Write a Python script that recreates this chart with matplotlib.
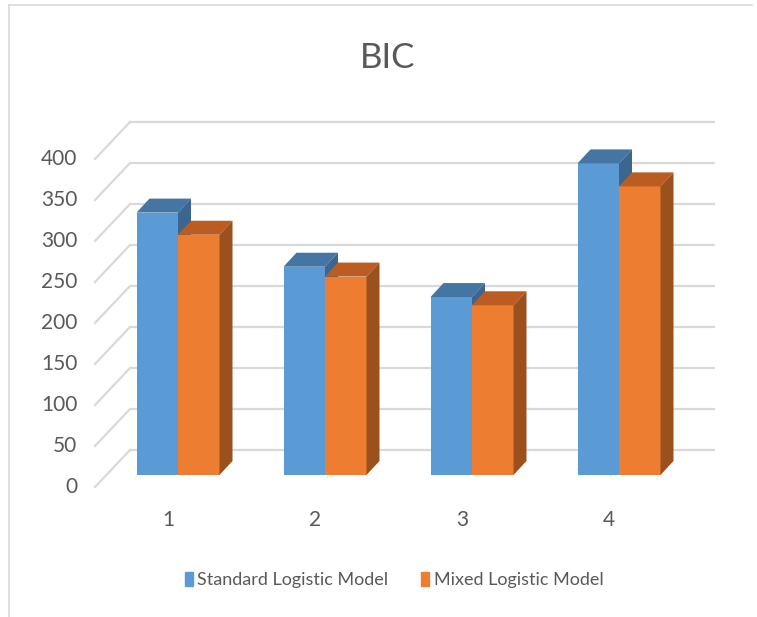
import matplotlib.pyplot as plt
from matplotlib.patches import Polygon, Patch
from matplotlib.lines import Line2D

# BIC values per model
categories = ['1', '2', '3', '4']
standard_bic = [320, 254, 217, 380]
mixed_bic = [293, 242, 207, 352]
series_names = ['Standard Logistic Model', 'Mixed Logistic Model']
y_ticks = [0, 50, 100, 150, 200, 250, 300, 350, 400]

blue = '#5B9BD5'
blue_top = '#4576A3'
blue_side = '#3A6690'
orange = '#ED7D31'
orange_top = '#BB5D22'
orange_side = '#9B501D'
grid_col = '#D9D9D9'
text_col = '#595959'

plt.rcParams['font.family'] = ['Lato', 'DejaVu Sans']

W, H = 757, 617
fig = plt.figure(figsize=(W / 100, H / 100), dpi=100)

# pixel layout of the front plane: value 0 at y=475, group i centred at 178+147*i
px_x0, px_step = 178, 147
px_y0, px_per_unit = 475, 0.82
ax_l, ax_r, ax_t, ax_b = 40, 745, 90, 540
ax = fig.add_axes([ax_l / W, (H - ax_b) / H, (ax_r - ax_l) / W, (ax_b - ax_t) / H])
ax.set_xlim((ax_l - px_x0) / px_step, (ax_r - px_x0) / px_step)
ax.set_ylim((px_y0 - ax_b) / px_per_unit, (px_y0 - ax_t) / px_per_unit)
ax.axis('off')

bar_w = 41.5 / px_step
# depth of a bar (oblique projection)
dx, dy = 13 / px_step, 14 / px_per_unit
# back wall sits behind the bars, left wall runs to the front
wall_dy = 25 / px_per_unit
wall_left = (130 - px_x0) / px_step
wall_right = (715 - px_x0) / px_step
front_x = (95 - px_x0) / px_step
front_dy = -12 / px_per_unit

for v in y_ticks:
    ax.plot([wall_left, wall_right], [v + wall_dy, v + wall_dy],
            color=grid_col, lw=1.6, zorder=1, solid_capstyle='butt')
    ax.plot([front_x, wall_left], [v + front_dy, v + wall_dy],
            color=grid_col, lw=1.6, zorder=1)
    ax.text(front_x - 0.12, v + front_dy, str(v), ha='right', va='center',
            fontsize=15, color=text_col)


def draw_box(x0, h, front, top, side, z):
    ax.bar(x0, h, bar_w, align='edge', color=front, zorder=z, lw=0)
    ax.add_patch(Polygon([(x0, h), (x0 + dx, h + dy), (x0 + bar_w + dx, h + dy),
                          (x0 + bar_w, h)], closed=True, fc=top, ec='none', zorder=z))
    ax.add_patch(Polygon([(x0 + bar_w, 0), (x0 + bar_w + dx, dy),
                          (x0 + bar_w + dx, h + dy), (x0 + bar_w, h)],
                         closed=True, fc=side, ec='none', zorder=z))


for i, cat in enumerate(categories):
    draw_box(i - bar_w, standard_bic[i], blue, blue_top, blue_side, 3)
    draw_box(i, mixed_bic[i], orange, orange_top, orange_side, 4)
    ax.text(i - 0.068, -55, cat, ha='center', va='center', fontsize=15, color=text_col)

fig.text(388 / W, 1 - 58 / H, 'BIC', ha='center', va='center', fontsize=25, color=text_col)

handles = [Patch(color=blue), Patch(color=orange)]
fig.legend(handles, series_names, loc='center', bbox_to_anchor=(394 / W, 1 - 580 / H),
           ncol=2, frameon=False, fontsize=13, labelcolor=text_col,
           handlelength=0.45, handleheight=0.85, handletextpad=0.25, columnspacing=1.8)

# chart border
fig.add_artist(Line2D([9 / W, 9 / W], [0, 1 - 5 / H], transform=fig.transFigure,
                      color=grid_col, lw=1.2))
fig.add_artist(Line2D([9 / W, 752 / W], [1 - 5 / H, 1 - 5 / H], transform=fig.transFigure,
                      color=grid_col, lw=1.2))

fig.savefig('out.png', dpi=100, facecolor='white')
